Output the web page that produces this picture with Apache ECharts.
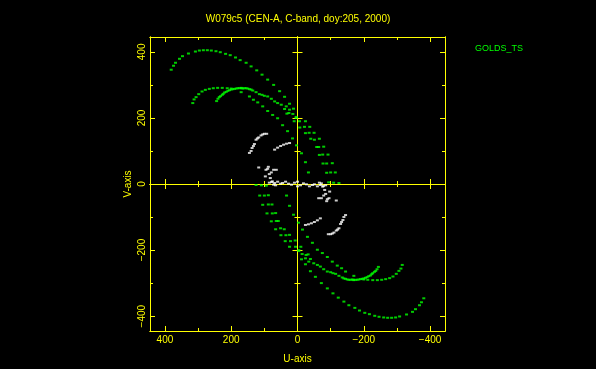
<!DOCTYPE html>
<html>
<head>
<meta charset="utf-8">
<script src="https://cdn.jsdelivr.net/npm/echarts@6/dist/echarts.min.js"></script>
<style>
html,body{margin:0;padding:0;background:#000;}
#chart{width:596px;height:369px;}
</style>
</head>
<body>
<div id="chart"></div>
<script>
// ---- data (U, V) ----
const titleText = 'W079c5 (CEN-A, C-band, doy:205, 2000)';
const seriesName = 'GOLDS_TS';
const majorTicks = [-400, -200, 0, 200, 400];
const minorTicks = [-300, -100, 100, 300];

// outer green track, upper-left half
const greenOuterA = [[381,346],[374,358],[368,367],[356,379],[347,387],[329,395],[308,401],[296,404],[284,405],[272,405],[260,404],[246,402],[233,399],[217,394],[203,390],[187,383],[173,375],[155,367],[140,356],[123,344],[107,331],[90,316],[72,300],[54,281],[39,264],[24,243],[12,228]];
// outer green track, lower-right half
const greenOuterB = [[-381,-346],[-374,-358],[-368,-367],[-356,-379],[-347,-387],[-329,-395],[-308,-401],[-296,-404],[-284,-405],[-272,-405],[-260,-404],[-246,-402],[-233,-399],[-217,-394],[-203,-390],[-187,-383],[-173,-375],[-155,-367],[-140,-356],[-123,-344],[-107,-331],[-90,-316],[-72,-300],[-54,-281],[-39,-264],[-24,-243],[-12,-228]];

// inner green tracks, upper half
const greenInnerA = [
 [316,245],[312,256],[306,263],[298,272],[288,280],[278,285],[266,288],[254,290],[241,291],[227,291],[212,290],[200,289],
 [244,251],[240,258],[236,263],[227,270],[220,277],[210,282],[200,286],[190,288],[185,289],[175,290],[169,290],[160,290],[155,290],[145,287],[135,283],[125,278],[115,272],[107,270],[100,267],[90,265],[79,258],[69,250],[60,245],[49,240],[34,235],[24,225],[14,212],[4,203],
 [232,266],[224,273],[215,279],[205,284],[195,287],[180,290],[170,291],[165,289],[150,289],[140,286],
 [170,278],[145,265],[133,255],[120,247],[105,235],[90,221],[75,209],[60,199],[45,178],[30,160],[15,138],[3,117],[-12,93],[-24,66],[-33,35],
 [-125,3],[-114,35],[-105,63],[-92,89],[-79,113],[-66,137],[-50,155],[-37,173],[-24,190],
 [-109,4],[-100,35],[-88,62],[-76,89],[-64,112],[-51,134],[-35,155],[-21,173],[-6,190],
 [-94,5],[-88,34],[-77,62],[-66,88],[-58,112],[-40,137],[-24,154],[-7,171],[10,190],
 [4,200],[26,215],[32,213],[39,227]
];
// inner green tracks, lower half
const greenInnerB = [
 [-316,-245],[-312,-256],[-306,-263],[-298,-272],[-288,-280],[-278,-285],[-266,-288],[-254,-290],[-241,-291],[-227,-291],[-212,-290],[-200,-289],
 [-244,-251],[-240,-258],[-236,-263],[-227,-270],[-220,-277],[-210,-282],[-200,-286],[-190,-288],[-185,-289],[-175,-290],[-169,-290],[-160,-290],[-155,-290],[-145,-287],[-135,-283],[-125,-278],[-115,-272],[-107,-270],[-100,-267],[-90,-265],[-79,-258],[-69,-250],[-60,-245],[-49,-240],[-34,-235],[-24,-225],[-14,-212],[-4,-203],
 [-232,-266],[-224,-273],[-215,-279],[-205,-284],[-195,-287],[-180,-290],[-170,-291],[-165,-289],[-150,-289],[-140,-286],
 [-170,-278],[-145,-265],[-133,-255],[-120,-247],[-105,-235],[-90,-221],[-75,-209],[-60,-199],[-45,-178],[-30,-160],[-15,-138],[-3,-117],[12,-93],[24,-66],[33,-35],
 [125,-3],[114,-35],[105,-63],[92,-89],[79,-113],[66,-137],[50,-155],[37,-173],[24,-190],
 [109,-4],[100,-35],[88,-62],[76,-89],[64,-112],[51,-134],[35,-155],[21,-173],[6,-190],
 [94,-5],[88,-34],[77,-62],[66,-88],[58,-112],[40,-137],[24,-154],[7,-171],[-10,-190],
 [-4,-200],[-26,-215],[-32,-213],[-39,-227]
];

// white points (other baselines)
const whiteA = [
 [145,94],[140,100],[137,109],[133,115],[130,121],[125,134],[121,138],[117,141],[110,147],[105,150],[100,152],[93,152],
 [69,104],[60,110],[51,115],[42,119],[33,122],[24,124],
 [117,50],[95,43],[97,23],[90,46],[79,35],[72,43],[64,43],[82,18],[76,8],[69,3],[85,30],[88,52],
 [85,4],[72,-2],[60,7],[51,1],[45,3],[36,7],[27,1],[18,-2],[9,4],[0,7],[66,-4],[78,6]
];
const whiteB = [
 [-145,-94],[-140,-100],[-137,-109],[-133,-115],[-130,-121],[-125,-134],[-121,-138],[-117,-141],[-110,-147],[-105,-150],[-100,-152],[-93,-152],
 [-69,-104],[-60,-110],[-51,-115],[-42,-119],[-33,-122],[-24,-124],
 [-117,-50],[-95,-43],[-97,-23],[-90,-46],[-79,-35],[-72,-43],[-64,-43],[-82,-18],[-76,-8],[-69,-3],[-85,-30],[-88,-52],
 [-85,-4],[-72,2],[-60,-7],[-51,-1],[-45,-3],[-36,-7],[-27,-1],[-18,2],[-9,-4],[0,-7],[-66,4],[-78,-6]
];

// ---- styling ----
const YEL = '#ffff00';
const GRN = '#00ff00';
const FONT = 'Liberation Sans';
const LIM = 445;

function fmt(v){
  return v < 0 ? '\u2212' + Math.abs(v) : String(v);
}

function axis(dim, extra){
  const base = {
    type:'value', gridIndex:0, min:-LIM, max:LIM, inverse: dim === 'x',
    splitLine:{show:false},
    axisLine:{show:true, onZero:false, lineStyle:{color:YEL, width:1}},
    axisTick:{show:true, inside:true, length:5, customValues:majorTicks, lineStyle:{color:YEL, width:1}},
    axisLabel:{show:false}
  };
  return Object.assign(base, extra, {
    axisLine: Object.assign({}, base.axisLine, extra.axisLine || {}),
    axisTick: Object.assign({}, base.axisTick, extra.axisTick || {})
  });
}

const labelStyle = {show:true, color:YEL, fontSize:10, fontFamily:FONT, formatter:fmt, customValues:majorTicks};
const zeroX = {onZero:true, onZeroAxisIndex:0};

const xAxes = [
  axis('x', {position:'bottom', name:'U-axis', nameLocation:'middle', nameGap:23,
    nameTextStyle:{color:YEL, fontSize:10, fontFamily:FONT},
    axisLabel:Object.assign({margin:4}, labelStyle)}),
  axis('x', {position:'bottom', axisTick:{length:3, customValues:minorTicks}}),
  axis('x', {position:'top'}),
  axis('x', {position:'top', axisTick:{length:3, customValues:minorTicks}}),
  axis('x', {position:'bottom', axisLine:zeroX, axisTick:{inside:true, length:5}}),
  axis('x', {position:'bottom', axisLine:zeroX, axisTick:{inside:false, length:5}}),
  axis('x', {position:'bottom', axisLine:zeroX, axisTick:{inside:true, length:3, customValues:minorTicks}}),
  axis('x', {position:'bottom', axisLine:zeroX, axisTick:{inside:false, length:3, customValues:minorTicks}})
];
const yAxes = [
  axis('y', {position:'left', name:'V-axis', nameLocation:'middle', nameGap:17, nameRotate:90,
    nameTextStyle:{color:YEL, fontSize:10, fontFamily:FONT},
    axisLabel:Object.assign({margin:3, rotate:90}, labelStyle)}),
  axis('y', {position:'left', axisTick:{length:3, customValues:minorTicks}}),
  axis('y', {position:'right'}),
  axis('y', {position:'right', axisTick:{length:3, customValues:minorTicks}}),
  axis('y', {position:'left', axisLine:zeroX, axisTick:{inside:true, length:5}}),
  axis('y', {position:'left', axisLine:zeroX, axisTick:{inside:false, length:5}}),
  axis('y', {position:'left', axisLine:zeroX, axisTick:{inside:true, length:3, customValues:minorTicks}}),
  axis('y', {position:'left', axisLine:zeroX, axisTick:{inside:false, length:3, customValues:minorTicks}})
];

const chart = echarts.init(document.getElementById('chart'), null, {renderer:'canvas'});
chart.setOption({
  backgroundColor:'#000',
  animation:false,
  title:{text:titleText, left:'center', top:9,
    textStyle:{color:YEL, fontSize:10, fontWeight:'normal', fontFamily:FONT}},
  legend:{data:[{name:seriesName, icon:'none'}], left:465, top:37, itemWidth:0, itemGap:0,
    selectedMode:false, textStyle:{color:GRN, fontSize:9, fontFamily:FONT}},
  grid:{left:150, top:37, width:295, height:294, containLabel:false},
  xAxis:xAxes,
  yAxis:yAxes,
  series:[
    {name:seriesName, type:'scatter', xAxisIndex:0, yAxisIndex:0, symbol:'rect', symbolSize:[3,2],
     itemStyle:{color:GRN}, silent:true,
     data: greenOuterA.concat(greenOuterB, greenInnerA, greenInnerB)},
    {name:'other', type:'scatter', xAxisIndex:0, yAxisIndex:0, symbol:'rect', symbolSize:[3,2],
     itemStyle:{color:'#ffffff'}, silent:true,
     data: whiteA.concat(whiteB)}
  ]
});
</script>
</body>
</html>
